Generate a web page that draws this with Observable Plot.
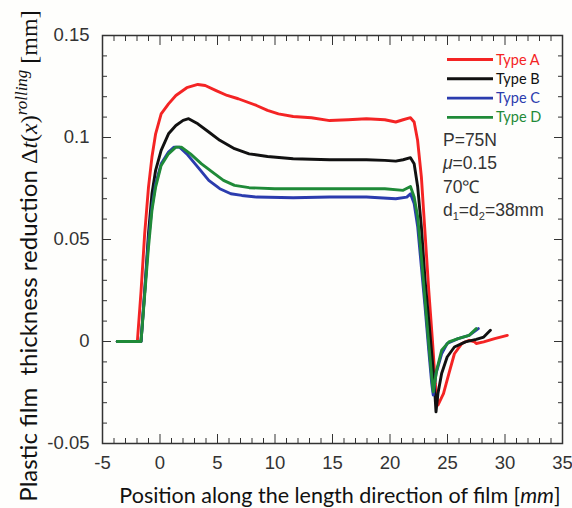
<!DOCTYPE html>
<html><head><meta charset="utf-8">
<script src="https://cdn.jsdelivr.net/npm/d3@7"></script>
<script src="https://cdn.jsdelivr.net/npm/@observablehq/plot@0.6"></script>
<style>body{margin:0;background:#fff} #chart{width:572px;height:508px}</style>
</head><body><div id="chart"></div>
<script>
const seriesNames = ["Type A", "Type B", "Type C", "Type D"];
const seriesColors = ["#f42424", "#111111", "#2b3cae", "#1f8a38"];

const typeA = [[-3.72,0],[-1.97,0],[-1.65,0.0245],[-1.33,0.053],[-1.0,0.0757],[-0.7,0.0904],[-0.38,0.1018],[0.1,0.1116],[0.74,0.1165],[1.38,0.1206],[2.33,0.1244],[3.29,0.126],[3.93,0.1255],[4.88,0.123],[5.84,0.1206],[6.8,0.119],[8.39,0.1157],[9.35,0.1133],[10.3,0.1116],[11.58,0.1103],[13.17,0.1097],[14.76,0.1083],[16.36,0.1087],[17.95,0.1092],[19.55,0.1087],[20.5,0.1076],[21.14,0.1087],[21.78,0.1097],[22.1,0.1076],[22.4,0.0986],[22.73,0.0806],[23.05,0.0529],[23.37,0.0251],[23.69,0.0006],[23.94,-0.0206],[24.17,-0.0312],[24.65,-0.0255],[25.12,-0.0157],[25.6,-0.006],[26.24,-0.001],[26.88,0.0006],[27.36,-0.0002],[27.5,-0.001],[28.15,-0.0002],[29.1,0.0014],[30.2,0.003]];
const typeB = [[-3.72,0],[-1.65,0],[-1.33,0.0245],[-1.0,0.053],[-0.7,0.0724],[-0.38,0.0839],[0.1,0.0937],[0.74,0.1018],[1.38,0.1059],[2.01,0.1084],[2.49,0.1092],[3.29,0.1067],[4.24,0.1027],[5.2,0.0986],[6.48,0.0945],[7.75,0.092],[9.35,0.0907],[11.58,0.0896],[14.76,0.0891],[17.95,0.0891],[19.55,0.0888],[20.5,0.0884],[21.14,0.0891],[21.78,0.0901],[22.1,0.0871],[22.41,0.0757],[22.73,0.0561],[23.05,0.03],[23.37,0.0104],[23.63,-0.006],[23.85,-0.0206],[24.0,-0.0345],[24.17,-0.0255],[24.49,-0.0157],[24.97,-0.0076],[25.6,-0.0027],[26.56,-0.0002],[27.5,0.001],[28.15,0.0022],[28.73,0.0055]];
const typeC = [[-3.72,0],[-1.65,0],[-1.33,0.0245],[-1.0,0.0496],[-0.7,0.0659],[-0.38,0.0773],[0.1,0.0871],[0.74,0.0929],[1.22,0.0953],[1.7,0.0953],[2.33,0.092],[3.29,0.0855],[4.24,0.079],[5.2,0.0749],[6.16,0.0724],[7.11,0.0716],[8.39,0.0708],[11.58,0.0705],[14.76,0.0708],[17.95,0.0708],[20.5,0.07],[21.46,0.0708],[21.78,0.0724],[22.1,0.0676],[22.41,0.0561],[22.73,0.0365],[23.05,0.0169],[23.37,-0.0043],[23.63,-0.0206],[23.76,-0.0263],[24.0,-0.0157],[24.49,-0.006],[24.97,-0.001],[25.92,0.0014],[26.88,0.003],[27.68,0.0063]];
const typeD = [[-3.72,0],[-1.65,0],[-1.33,0.0229],[-1.0,0.0463],[-0.7,0.0643],[-0.38,0.0757],[0.1,0.0863],[0.74,0.092],[1.38,0.0953],[1.86,0.0953],[2.65,0.092],[3.61,0.0871],[4.56,0.083],[5.52,0.079],[6.48,0.0765],[7.75,0.0754],[9.98,0.0749],[13.17,0.0749],[16.36,0.0749],[19.55,0.0749],[21.14,0.0741],[21.78,0.076],[22.1,0.0708],[22.41,0.061],[22.73,0.0414],[23.05,0.0202],[23.37,-0.001],[23.63,-0.0173],[23.76,-0.0247],[24.06,-0.014],[24.49,-0.0043],[25.12,-0.0002],[25.92,0.0014],[26.88,0.003],[27.5,0.0063]];

const xMajor = [-5, 0, 5, 10, 15, 20, 25, 30, 35];
const xMinor = [-4,-3,-2,-1,1,2,3,4,6,7,8,9,11,12,13,14,16,17,18,19,21,22,23,24,26,27,28,29,31,32,33,34];
const yMajor = [-0.05, 0, 0.05, 0.1, 0.15];
const yMinor = [-0.04,-0.03,-0.02,-0.01,0.01,0.02,0.03,0.04,0.06,0.07,0.08,0.09,0.11,0.12,0.13,0.14];
const annotations = ["P=75N", "μ=0.15", "70℃"];

const allSeries = [typeA, typeB, typeC, typeD];
const data = allSeries.flatMap((s, i) => s.map(([x, y]) => ({x, y, series: seriesNames[i]})));

const tickColor = "#333";
const fmt = d => String(d);

const chart = Plot.plot({
  width: 572, height: 508,
  marginLeft: 102, marginRight: 10, marginTop: 35, marginBottom: 65,
  style: {background: "#fefefc", overflow: "visible"},
  x: {domain: [-5, 35]},
  y: {domain: [-0.05, 0.15]},
  color: {domain: seriesNames, range: seriesColors},
  marks: [
    Plot.axisX(xMajor, {anchor: "bottom", tickSize: -9, fill: "none", stroke: tickColor, label: null}),
    Plot.axisX(xMajor, {anchor: "top", tickSize: -9, fill: "none", stroke: tickColor, label: null}),
    Plot.axisX(xMinor, {anchor: "bottom", tickSize: -5, fill: "none", stroke: tickColor, label: null}),
    Plot.axisX(xMinor, {anchor: "top", tickSize: -5, fill: "none", stroke: tickColor, label: null}),
    Plot.axisY(yMajor, {anchor: "left", tickSize: -9, fill: "none", stroke: tickColor, label: null}),
    Plot.axisY(yMajor, {anchor: "right", tickSize: -9, fill: "none", stroke: tickColor, label: null}),
    Plot.axisY(yMinor, {anchor: "left", tickSize: -5, fill: "none", stroke: tickColor, label: null}),
    Plot.axisY(yMinor, {anchor: "right", tickSize: -5, fill: "none", stroke: tickColor, label: null}),
    Plot.axisX(xMajor, {anchor: "bottom", tickSize: 0, tickPadding: 12, tickFormat: fmt, fontSize: 18.5, fontFamily: "Liberation Sans", fill: "#333", label: null}),
    Plot.axisY(yMajor, {anchor: "left", tickSize: 0, tickPadding: 13, tickFormat: fmt, fontSize: 18.5, fontFamily: "Liberation Sans", fill: "#333", label: null}),
    Plot.line(data, {x: "x", y: "y", z: "series", stroke: "series", strokeWidth: 2.9, curve: "linear"}),
    Plot.frame({stroke: "#333", strokeWidth: 1.5})
  ]
});
document.getElementById("chart").appendChild(chart);

const svg = d3.select(chart);
// Legend
seriesNames.forEach((name, i) => {
  const y = 59.5 + i * 19.3;
  svg.append("line").attr("x1", 447).attr("x2", 493).attr("y1", y).attr("y2", y)
    .attr("stroke", seriesColors[i]).attr("stroke-width", 2.9);
  svg.append("text").attr("x", 496).attr("y", y + 5).attr("text-anchor", "start")
    .attr("font-family", "Lato").attr("font-size", 14.5)
    .attr("fill", seriesColors[i]).text(name);
});
// Annotations
const ann = svg.append("g").attr("font-family", "Liberation Sans").attr("font-size", 17.5)
  .attr("fill", "#333").attr("text-anchor", "start");
annotations.forEach((t, i) => {
  const tx = ann.append("text").attr("x", 443).attr("y", 146 + i * 23.3);
  if (t.startsWith("μ")) {
    tx.append("tspan").attr("font-style", "italic").text("μ");
    tx.append("tspan").text(t.slice(1));
  } else tx.text(t);
});
const dt = ann.append("text").attr("x", 443).attr("y", 146 + 3 * 23.3);
dt.append("tspan").text("d");
dt.append("tspan").attr("font-size", 11).attr("dy", 4).text("1");
dt.append("tspan").attr("dy", -4).text("=d");
dt.append("tspan").attr("font-size", 11).attr("dy", 4).text("2");
dt.append("tspan").attr("dy", -4).text("=38mm");

// X axis label
const xl = svg.append("text").attr("x", 340).attr("y", 503).attr("text-anchor", "middle")
  .attr("font-family", "Lato").attr("font-size", 21.5).attr("fill", "#111");
xl.append("tspan").text("Position along the length direction of film [");
xl.append("tspan").attr("font-style", "italic").text("mm");
xl.append("tspan").text("]");

// Y axis label
const yl = svg.append("text").attr("transform", "translate(37,256) rotate(-90)").attr("text-anchor", "middle")
  .attr("font-family", "Lato").attr("font-size", 24).attr("fill", "#111").style("white-space", "pre");
yl.append("tspan").text("Plastic film  thickness reduction ");
yl.append("tspan").attr("font-family", "Liberation Serif").text("Δ");
yl.append("tspan").attr("font-family", "Liberation Serif").attr("font-style", "italic").text("t");
yl.append("tspan").attr("font-family", "Liberation Serif").text("(");
yl.append("tspan").attr("font-family", "Liberation Serif").attr("font-style", "italic").text("x");
yl.append("tspan").attr("font-family", "Liberation Serif").text(")");
yl.append("tspan").attr("font-family", "Liberation Serif").attr("font-style", "italic").attr("font-size", 17).attr("dy", -10).text("rolling");
yl.append("tspan").attr("font-family", "Liberation Serif").attr("dy", 10).text(" [mm]");
</script>
</body></html>
